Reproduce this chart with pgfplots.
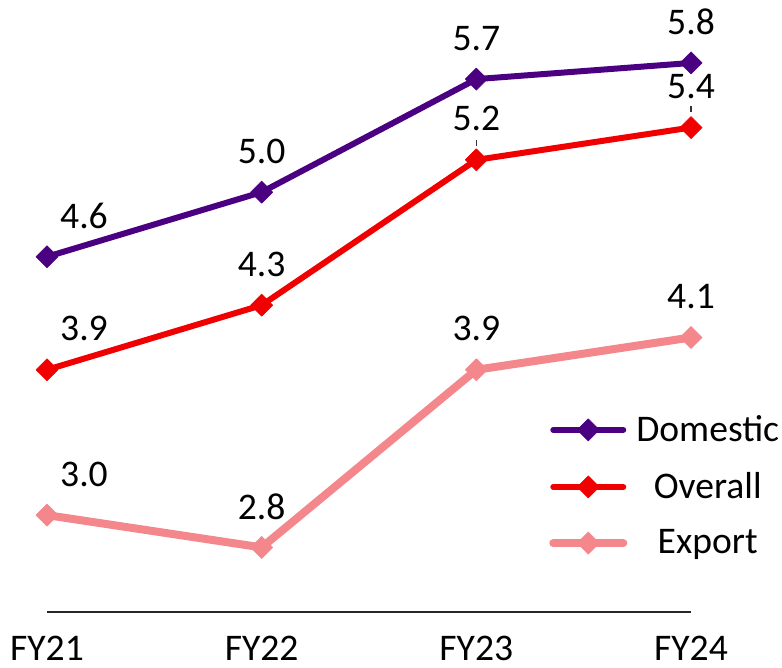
\documentclass[border=0pt]{standalone}
\usepackage{pgfplots}
\pgfplotsset{compat=1.18}
\usepackage{fontspec}
\setmainfont{Carlito}
\definecolor{domestic}{HTML}{4B0082}
\definecolor{overall}{HTML}{F00000}
\definecolor{export}{HTML}{F4878C}
\newcommand{\bigfont}{\fontsize{18.8}{22}\selectfont}

\begin{document}
\begin{tikzpicture}
\begin{axis}[
    scale only axis,
    width=322pt, height=306pt,
    xmin=0, xmax=3, ymin=2.4, ymax=6.19,
    clip=false,
    axis x line=bottom,
    axis line style={-, line width=0.75pt, black!85},
    hide y axis,
    xtick={0,1,2,3},
    xticklabels={FY21,FY22,FY23,FY24},
    major tick length=0pt,
    xticklabel style={font=\bigfont, yshift=-8.5pt},
    /pgf/number format/assume math mode=true,
    nodes near coords={\pgfmathprintnumber[fixed,fixed zerofill,precision=1]{\pgfplotspointmeta}},
    every node near coord/.append style={font=\bigfont, text=black, anchor=center, yshift=20.5pt},
    coordinate style/.condition={x==0}{xshift=18.5pt},
    every axis plot/.append style={line join=round},
    legend style={draw=none, fill=none, font=\bigfont, at={(0.77,0.335)}, anchor=north west, row sep=10pt,
        /tikz/every odd column/.append style={column sep=2.5pt}},
    legend cell align=center,
    legend image code/.code={\draw[mark repeat=2, mark phase=2, line cap=round, #1] plot coordinates {(0pt,0pt) (17.5pt,0pt) (35pt,0pt)};},
]
\addplot[domestic, line width=3pt, mark=square*, mark size=3.9pt, mark options={rotate=45, solid, line width=0.3pt}]
    coordinates {(0,4.6) (1,5.0) (2,5.7) (3,5.8)};
\addlegendentry{Domestic}
\addplot[overall, line width=3pt, mark=square*, mark size=3.9pt, mark options={rotate=45, solid, line width=0.3pt}]
    coordinates {(0,3.9) (1,4.3) (2,5.2) (3,5.4)};
\addlegendentry{Overall}
\addplot[export, line width=4pt, mark=square*, mark size=3.9pt, mark options={rotate=45, solid, line width=0.3pt}]
    coordinates {(0,3.0) (1,2.8) (2,3.9) (3,4.1)};
\addlegendentry{Export}
% short leader lines under the two shifted labels
\draw[black!80, line width=0.6pt] ([yshift=7pt]axis cs:2,5.2) -- ([yshift=10pt]axis cs:2,5.2);
\draw[black!80, line width=0.6pt] ([yshift=8pt]axis cs:3,5.4) -- ([yshift=11pt]axis cs:3,5.4);
\coordinate (sw) at (rel axis cs:0,0);
\coordinate (ne) at (rel axis cs:1,1);
\end{axis}
\pgfresetboundingbox
\path[use as bounding box] ([shift={(-23.5pt,-27.5pt)}]sw) rectangle ([shift={(45.5pt,0pt)}]ne);
\end{tikzpicture}
\end{document}
